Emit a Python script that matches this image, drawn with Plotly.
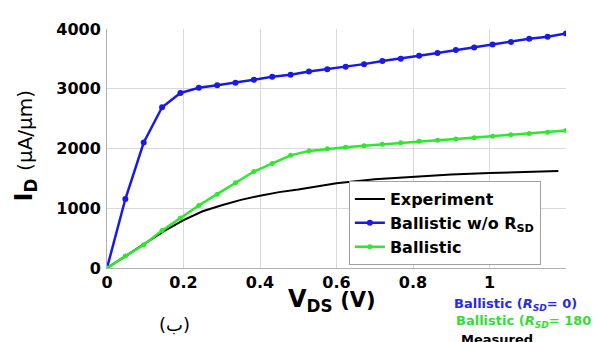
import plotly.graph_objects as go

# Ballistic simulations: 26 points from 0 to 1.2 V
vds_sim = [round(0.048 * i, 3) for i in range(26)]
ballistic_no_rsd = [0, 1155, 2100, 2690, 2930, 3015, 3060, 3100, 3150, 3200, 3235, 3287, 3325,
                    3368, 3412, 3466, 3503, 3552, 3600, 3649, 3692, 3741, 3784, 3838, 3870, 3924]
ballistic = [0, 200, 390, 626, 835, 1047, 1236, 1425, 1614, 1750, 1885, 1960, 1995,
             2022, 2048, 2073, 2096, 2121, 2140, 2160, 2182, 2207, 2230, 2251, 2273, 2300]

# Measured curve
vds_exp = [0, 0.05, 0.1, 0.15, 0.2, 0.25, 0.3, 0.35, 0.4, 0.45, 0.5, 0.6, 0.7, 0.8, 0.9, 1.0, 1.1, 1.18]
experiment = [0, 205, 410, 620, 800, 950, 1050, 1140, 1210, 1270, 1315, 1420, 1485, 1530, 1565,
              1590, 1610, 1625]

x_ticks = [0, 0.2, 0.4, 0.6, 0.8, 1]
x_tick_labels = ["0", "0.2", "0.4", "0.6", "0.8", "1"]
y_ticks = [0, 1000, 2000, 3000, 4000]
y_tick_labels = ["0", "1000", "2000", "3000", "4000"]

BLUE = "#1a1ae6"
GREEN = "#2de82d"

fig = go.Figure()
fig.add_trace(go.Scatter(x=vds_exp, y=experiment, mode="lines", name="Experiment",
                         line=dict(color="black", width=2)))
fig.add_trace(go.Scatter(x=vds_sim, y=ballistic_no_rsd, mode="lines+markers",
                         name="Ballistic w/o R<sub>SD</sub>",
                         line=dict(color=BLUE, width=2.5), marker=dict(size=6, color=BLUE)))
fig.add_trace(go.Scatter(x=vds_sim, y=ballistic, mode="lines+markers", name="Ballistic",
                         line=dict(color=GREEN, width=2.5), marker=dict(size=5, color=GREEN)))

font_fam = "DejaVu Sans, Liberation Sans, sans-serif"

# The page body has an 8px margin, so the figure is sized/margined to compensate.
fig.update_layout(
    width=591, height=334,
    margin=dict(l=99, r=33, t=13, b=74),
    paper_bgcolor="white", plot_bgcolor="white",
    font=dict(family=font_fam, color="black"),
    showlegend=True,
    legend=dict(x=0.527, y=0.012, xanchor="left", yanchor="bottom",
                bordercolor="#a0a0a0", borderwidth=1, bgcolor="white",
                font=dict(size=16, weight="bold", family=font_fam),
                itemwidth=30, tracegroupgap=0),
    xaxis=dict(range=[0, 1.2], tickvals=x_ticks, ticktext=x_tick_labels,
               showgrid=True, gridcolor="#d9d9d9", gridwidth=1,
               showline=True, linecolor="#b0b0b0", linewidth=1, zeroline=False,
               ticks="", tickfont=dict(size=16, weight="bold", family=font_fam)),
    yaxis=dict(range=[0, 4000], tickvals=y_ticks, ticktext=y_tick_labels,
               showgrid=True, gridcolor="#d9d9d9", gridwidth=1,
               showline=True, linecolor="#b0b0b0", linewidth=1, zeroline=False,
               ticks="", ticklabelstandoff=2,
               tickfont=dict(size=16, weight="bold", family=font_fam)),
)

# Axis titles
fig.add_annotation(xref="paper", yref="paper", x=0.49, y=-0.135, xanchor="center", yanchor="middle",
                   text="<b>V<sub>DS</sub></b> <b><span style='font-size:21px'>(V)</span></b>",
                   showarrow=False, font=dict(size=24, family=font_fam, color="black"))
fig.add_annotation(xref="paper", yref="paper", x=-0.178, y=0.51, xanchor="center", yanchor="middle",
                   textangle=-90,
                   text="<b>I<sub>D</sub></b> <span style='font-size:20px'>(μA/μm)</span>",
                   showarrow=False, font=dict(size=24, family=font_fam, color="black"))

# Extra labels below the chart
fig.add_annotation(xref="paper", yref="paper", x=0.148, y=-0.235, xanchor="center", yanchor="middle",
                   text="(ب)", showarrow=False,
                   font=dict(size=18, family="DejaVu Sans, sans-serif", color="black"))
fig.add_annotation(xref="paper", yref="paper", x=0.752, y=-0.153, xanchor="left", yanchor="middle",
                   text="<b>Ballistic (<i>R<sub>SD</sub></i>= 0)</b>", showarrow=False,
                   font=dict(size=13, family=font_fam, color="#2a2ae0"))
fig.add_annotation(xref="paper", yref="paper", x=0.756, y=-0.222, xanchor="left", yanchor="middle",
                   text="<b>Ballistic (<i>R<sub>SD</sub></i>= 180)</b>", showarrow=False,
                   font=dict(size=13, family=font_fam, color="#33dd33"))
fig.add_annotation(xref="paper", yref="paper", x=0.767, y=-0.30, xanchor="left", yanchor="middle",
                   text="<b>Measured</b>", showarrow=False,
                   font=dict(size=13, family=font_fam, color="black"))

fig.write_html("out.html")
